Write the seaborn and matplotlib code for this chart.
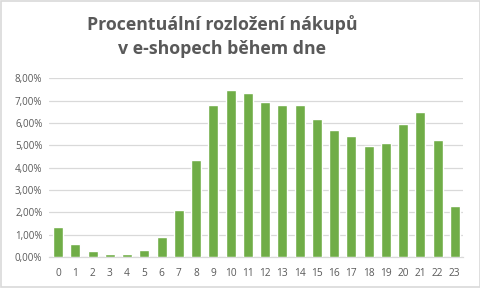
import matplotlib
matplotlib.use("Agg")
import matplotlib.pyplot as plt
import seaborn as sns
import pandas as pd
from matplotlib.ticker import FuncFormatter
from matplotlib.patches import Rectangle

hours = [str(h) for h in range(24)]
values = [1.35, 0.60, 0.28, 0.15, 0.15, 0.33, 0.90, 2.10, 4.33, 6.80, 7.46, 7.34,
          6.93, 6.79, 6.79, 6.20, 5.67, 5.40, 4.97, 5.10, 5.95, 6.47, 5.22, 2.29]
title = "Procentuální rozložení nákupů\nv e-shopech během dne"

sns.set_theme(style="white")
plt.rcParams['font.family'] = ['Open Sans', 'DejaVu Sans']

df = pd.DataFrame({"hour": hours, "value": values})

fig = plt.figure(figsize=(4.81, 2.88), dpi=100)
ax = fig.add_axes([49.4/481, 1-257/288, (463.4-49.4)/481, (257-78.3)/288])
sns.barplot(data=df, x="hour", y="value", color="#70AD47", saturation=1,
            width=0.58, ax=ax, zorder=3)
ax.set_ylim(0, 8)
ax.set_xlim(-0.5, 23.5)
ax.set_yticks(range(0, 9))
ax.yaxis.set_major_formatter(FuncFormatter(lambda v, p: f"{v:.2f}".replace(".", ",") + "%"))
ax.grid(axis="y", color="#D9D9D9", linewidth=0.9, zorder=0)
ax.set_axisbelow(True)
for s in ["top", "right", "left"]:
    ax.spines[s].set_visible(False)
ax.spines["bottom"].set_color("#D9D9D9")
ax.spines["bottom"].set_linewidth(0.9)
ax.tick_params(axis="y", length=0, labelsize=7, colors="#595959", pad=5)
ax.tick_params(axis="x", length=0, labelsize=7.3, colors="#595959", pad=8)
ax.set_xlabel("")
ax.set_ylabel("")

fig.text(0.462, 0.873, title, ha="center", va="center", fontsize=12.8,
         fontweight="bold", color="#595959", linespacing=1.42)

fig.patches.append(Rectangle((0.002, 0.003), 0.996, 0.994, transform=fig.transFigure,
                             fill=False, edgecolor="#D9D9D9", linewidth=1.2))

fig.savefig("out.png", dpi=100, facecolor="white")
